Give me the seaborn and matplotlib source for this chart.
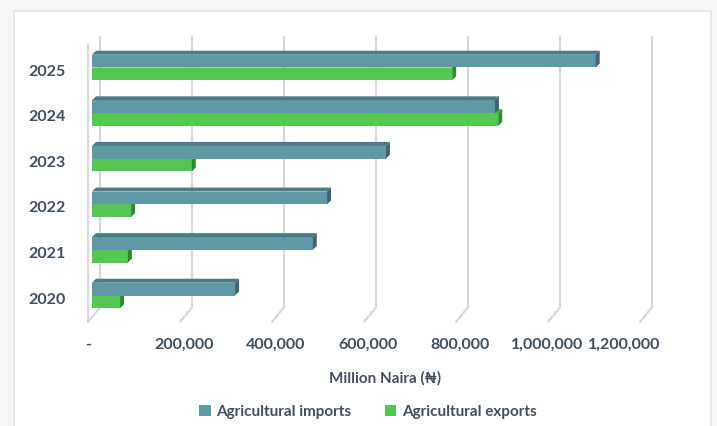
import matplotlib
matplotlib.use("Agg")
import matplotlib.pyplot as plt
from matplotlib.patches import Polygon, Rectangle, Patch
from matplotlib.lines import Line2D
from matplotlib.transforms import ScaledTranslation
import pandas as pd
import seaborn as sns

# Agricultural trade, million naira
years = ["2025", "2024", "2023", "2022", "2021", "2020"]
imports = [1095000, 876000, 639000, 511000, 480000, 311000]
exports = [783000, 883000, 217000, 85000, 78000, 61000]
series_names = ["Agricultural imports", "Agricultural exports"]
x_ticks = [0, 200000, 400000, 600000, 800000, 1000000, 1200000]
x_tick_labels = ["-", "200,000", "400,000", "600,000", "800,000",
                 "1,000,000", "1,200,000"]
x_title = "Million Naira (\u20a6)"

df = pd.DataFrame({
    "Year": years * 2,
    "Value": imports + exports,
    "Series": [series_names[0]] * len(years) + [series_names[1]] * len(years),
})

sns.set_theme(style="white")
plt.rcParams["font.family"] = ["Lato", "DejaVu Sans"]

TEXT = "#434e5e"
FRONT = {series_names[0]: "#5f99a3", series_names[1]: "#53c653"}
TOP = {series_names[0]: "#4d7a83", series_names[1]: "#41a941"}
SIDE = {series_names[0]: "#3f666e", series_names[1]: "#2f8a2f"}

W, H = 717, 426
fig = plt.figure(figsize=(W / 100, H / 100), dpi=100)
fig.patch.set_facecolor("#f6f6f7")
fig.patches.append(Rectangle((14 / W, -0.01), (711 - 14) / W, (426 - 11) / H + 0.01,
                             transform=fig.transFigure, facecolor="white",
                             edgecolor="#e1e4e9", linewidth=1.2, zorder=-1))

ax_left, ax_right = 92, 644
ax_top, ax_bottom = 44.7, 318.3
ax = fig.add_axes([ax_left / W, 1 - ax_bottom / H,
                   (ax_right - ax_left) / W, (ax_bottom - ax_top) / H])
ax.set_facecolor("none")

sns.barplot(data=df, y="Year", x="Value", hue="Series", order=years,
            hue_order=series_names, palette=FRONT, width=0.56, orient="h",
            saturation=1, linewidth=0, legend=False, ax=ax)

xmax = x_ticks[-1]
ax.set_xlim(0, xmax)
ax.set_ylim(len(years) - 0.5, -0.5)
for s in ax.spines.values():
    s.set_visible(False)

# pixel -> data conversions for the depth effect
px_x = (ax_right - ax_left) / xmax
px_y = (ax_bottom - ax_top) / len(years)
def dx(px):
    return px / px_x
def dy(px):
    return px / px_y

ylo, yhi = -0.5, len(years) - 0.5

# back-wall gridlines with a short slanted floor segment
for t in x_ticks:
    ax.add_line(Line2D([t + dx(8), t + dx(8), t - dx(4)],
                       [ylo - dy(7.7), yhi - dy(11), yhi + dy(3.7)],
                       color="#d6d8dd", lw=1.6, zorder=1, clip_on=False))
ax.add_line(Line2D([-dx(4), -dx(4)], [ylo + dy(0.3), yhi + dy(3.7)],
                   color="#d6d8dd", lw=1.6, zorder=1, clip_on=False))

# depth faces for each bar
depth_x, depth_y = dx(4), dy(4)
for k, (name, cont) in enumerate(zip(series_names, ax.containers)):
    base_z = 4 if k == 0 else 3
    for bar in cont:
        bar.set_zorder(base_z)
        x0, w = bar.get_x(), bar.get_width()
        y0, h = bar.get_y(), bar.get_height()
        top = Polygon([(x0, y0), (x0 + w, y0), (x0 + w + depth_x, y0 - depth_y),
                       (x0 + depth_x, y0 - depth_y)], closed=True,
                      facecolor=TOP[name], edgecolor="none", zorder=base_z - 0.5,
                      clip_on=False)
        side = Polygon([(x0 + w, y0), (x0 + w + depth_x, y0 - depth_y),
                        (x0 + w + depth_x, y0 + h - depth_y), (x0 + w, y0 + h)],
                       closed=True, facecolor=SIDE[name], edgecolor="none",
                       zorder=base_z + 0.5, clip_on=False)
        ax.add_patch(top)
        ax.add_patch(side)

ax.set_xticks(x_ticks, x_tick_labels)
ax.tick_params(axis="x", length=0, pad=14, labelsize=11.5, labelcolor=TEXT)
ax.tick_params(axis="y", length=0, pad=19, labelsize=11.5, labelcolor=TEXT)
for lbl in ax.get_xticklabels() + ax.get_yticklabels():
    lbl.set_fontweight("bold")

# keep the outer tick labels inside the chart frame
xlabels = ax.get_xticklabels()
for idx, shift in ((0, -4), (len(xlabels) - 2, -5), (len(xlabels) - 1, -20)):
    xlabels[idx].set_transform(xlabels[idx].get_transform()
                               + ScaledTranslation(shift / 100, 0, fig.dpi_scale_trans))
for lbl in ax.get_yticklabels():
    lbl.set_transform(lbl.get_transform()
                      + ScaledTranslation(0, -2.5 / 100, fig.dpi_scale_trans))

ax.set_xlabel("")
ax.set_ylabel("")
ax.grid(False)

fig.text(385 / W, 1 - 378 / H, x_title, ha="center", va="center",
         fontsize=11, fontweight="bold", color=TEXT)

handles = [Patch(facecolor=FRONT[n], edgecolor="none") for n in series_names]
leg = fig.legend(handles, series_names, loc="center",
                 bbox_to_anchor=(368 / W, 1 - 412 / H), ncol=2, frameon=False,
                 handlelength=0.75, handleheight=0.75, handletextpad=0.35,
                 columnspacing=2.2, prop={"weight": "bold", "size": 11})
for t in leg.get_texts():
    t.set_color(TEXT)

fig.savefig("out.png", dpi=100, facecolor=fig.get_facecolor())
